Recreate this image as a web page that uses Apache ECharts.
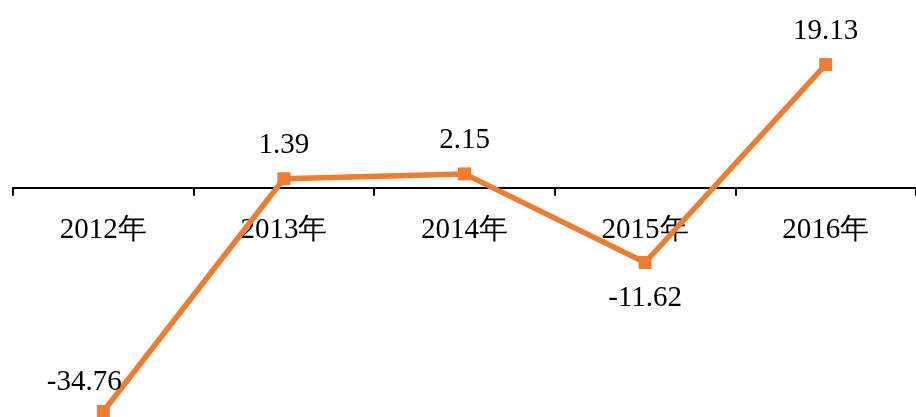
<!DOCTYPE html>
<html><head><meta charset="utf-8">
<script src="https://cdn.jsdelivr.net/npm/echarts@6/dist/echarts.min.js"></script>
<style>html,body{margin:0;padding:0;background:#fff}#c{width:916px;height:417px}</style>
</head><body><div id="c"></div>
<script>
const categories = ['2012年','2013年','2014年','2015年','2016年'];
const values = [-34.76, 1.39, 2.15, -11.62, 19.13];
const labelPlacement = ['top','top','top','bottom','top'];

const FONT = '"Liberation Serif","Times New Roman",serif';
const data = values.map((v,i)=>{
  const pos = labelPlacement[i];
  const lab = {position: pos, distance: pos === 'top' ? 12 : 15};
  if (i === 0) { lab.offset = [-19, 4]; }
  return {value: v, label: lab};
});
const chart = echarts.init(document.getElementById('c'));
const option = {
  animation:false,
  grid:{left:13,right:0,top:59,bottom:4,containLabel:false,outerBoundsMode:'none'},
  xAxis:{
    type:'category', data:categories, boundaryGap:true, position:'bottom', offset:0,
    axisLine:{onZero:false, lineStyle:{color:'#000', width:2}},
    axisTick:{show:true, length:8, lineStyle:{color:'#000', width:2}, alignWithLabel:false},
    axisLabel:{color:'#000', fontFamily:FONT, fontSize:29, margin:28},
    splitLine:{show:false}
  },
  yAxis:{
    type:'value', min:-35, max:20, show:false,
    splitLine:{show:false}
  },
  series:[{
    type:'line', data:data,
    symbol:'rect', symbolSize:13,
    lineStyle:{color:'#ED7D31', width:5.5},
    itemStyle:{color:'#ED7D31'},
    label:{show:true, color:'#000', fontFamily:FONT, fontSize:29,
      formatter: p => p.value.toFixed(2)}
  }]
};
chart.setOption(option);
// move the category axis (with its labels) up to the value-axis zero line
const zeroY = chart.convertToPixel({yAxisIndex:0}, 0);
const bottomY = chart.convertToPixel({yAxisIndex:0}, option.yAxis.min);
chart.setOption({xAxis:{offset: zeroY - bottomY}});
</script></body></html>
